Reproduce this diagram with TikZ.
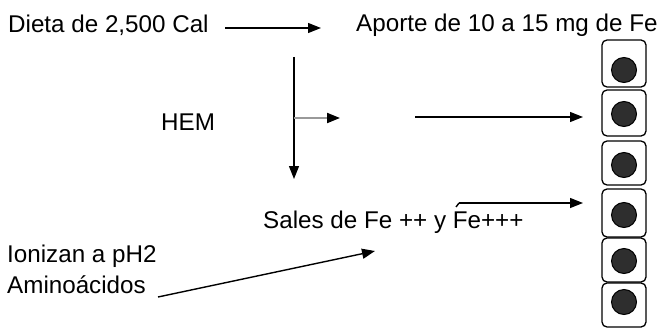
\documentclass[tikz,border=0pt]{standalone}
\usepackage{fontspec}
\setmainfont{Liberation Sans}
\usetikzlibrary{arrows.meta}

\begin{document}
\begin{tikzpicture}[x=1pt,y=-1pt,
  lbl/.style={anchor=base west,inner sep=0pt,font=\fontsize{24.2}{29}\selectfont},
  link/.style={line width=1.4pt,-{Triangle[length=13pt,width=10pt]}},
  graylink/.style={line width=2pt,draw=black!40,-{Triangle[length=13pt,width=10pt,color=black,fill=black]}},
  cell/.style={draw,line width=1.3pt,rounded corners=5pt,minimum width=44pt,inner sep=0pt},
  dot/.style={circle,fill=black!82,draw=black,line width=1pt,minimum size=25pt,inner sep=0pt}]
\useasboundingbox (0,0) rectangle (658,329);

% labels
\node[lbl] (dieta) at (8,33) {Dieta de 2,500 Cal};
\node[lbl] (aporte) at (356,32) {Aporte de 10 a 15 mg de Fe};
\node[lbl] (hem) at (161,130) {HEM};
\node[lbl] (sales) at (263,228) {Sales de Fe ++ y Fe+++};
\node[lbl] (ioniz) at (7,262) {Ionizan a pH2};
\node[lbl] (amino) at (7,293) {Aminoácidos};

% column of cells, each holding a dot
\foreach \i/\top/\bot/\cy in {1/40/87/70, 2/90/136/114, 3/141/185/165,
                               4/189/237/215, 5/238/282/261, 6/283/327/302}{
  \node[cell,minimum height={\bot-\top}] (b\i) at (624,{(\top+\bot)/2}) {};
  \node[dot] (c\i) at (624,\cy) {};
}

% connector end points
\coordinate (d1) at (225,28);
\coordinate (d2) at (321,28);
\coordinate (v1) at (294,57);
\coordinate (v2) at (294,179);
\coordinate (h1) at (294,118);
\coordinate (h2) at (340,118);
\coordinate (m1) at (415,117);
\coordinate (m2) at (583,117);
\coordinate (s0) at (456,207);
\coordinate (s1) at (459,203);
\coordinate (s2) at (583,203);
\coordinate (a1) at (158,297);
\coordinate (a2) at (375,251);

% connectors
\draw[link] (d1) -- (d2);
\draw[link] (v1) -- (v2);
\draw[graylink] (h1) -- (h2);
\draw[link] (m1) -- (m2);
\draw[line width=1.4pt] (s0) -- (s1);
\draw[link] (s1) -- (s2);
\draw[link] (a1) -- (a2);
\end{tikzpicture}
\end{document}
